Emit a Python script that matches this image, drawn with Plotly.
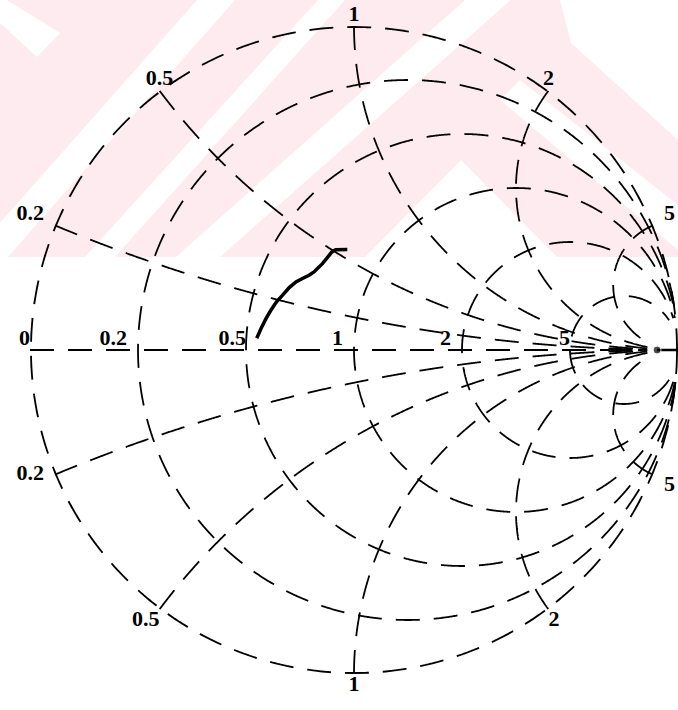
import numpy as np
import plotly.graph_objects as go

# Grid values of the Smith chart (normalised impedance)
resistance_ticks = [0.2, 0.5, 1, 2, 5]
reactance_ticks = [0.2, 0.5, 1, 2, 5]
resistance_label_values = [0, 0.2, 0.5, 1, 2, 5]
resistance_labels = ["0", "0.2", "0.5", "1", "2", "5"]
reactance_labels = ["0.2", "0.5", "1", "2", "5"]

# Measured impedance locus (normalised): real and imaginary parts
z_real = [0.537, 0.550, 0.564, 0.577, 0.591, 0.608, 0.625, 0.644, 0.665,
          0.687, 0.702, 0.710, 0.721, 0.728, 0.733, 0.743, 0.794]
z_imag = [0.043, 0.080, 0.120, 0.155, 0.191, 0.223, 0.261, 0.293, 0.317,
          0.342, 0.365, 0.386, 0.418, 0.455, 0.491, 0.511, 0.545]

GRID_LIMIT = 20.0          # grid lines end at this resistance / reactance
DASH = "24px,14px"
GRID_LINE = dict(color="black", width=1.8, dash=DASH)
# the rim sits on the subplot clip edge, so only its inner half shows
RIM_LINE = dict(color="black", width=3.8, dash=DASH)
FONT = dict(family="Liberation Serif", size=22, color="black", weight="bold")
NB = "\u00a0"

W, H = 678, 710
ML, MR, MT, MB = 30, 0, 25, 35
PW, PH = W - ML - MR, H - MT - MB

fig = go.Figure()


def add_line(real, imag, line):
    fig.add_trace(go.Scattersmith(real=real, imag=imag, mode="lines",
                                  line=line, cliponaxis=False, hoverinfo="skip"))


# outer boundary (r = 0)
u = np.linspace(-np.arctan(1e4), np.arctan(1e4), 2400)
add_line(np.zeros_like(u), np.tan(u), RIM_LINE)

# constant-resistance circles
for r in resistance_ticks:
    u = np.linspace(-np.arctan(GRID_LIMIT), np.arctan(GRID_LIMIT), 1600)
    add_line(np.full_like(u, r), np.tan(u), GRID_LINE)

# constant-reactance arcs, above and below the real axis
for x in reactance_ticks:
    u = np.linspace(0, np.arctan(GRID_LIMIT), 900)
    for sign in (1, -1):
        add_line(np.tan(u), np.full_like(u, sign * x), GRID_LINE)

# real axis
u = np.linspace(0, np.arctan(GRID_LIMIT), 900)
add_line(np.tan(u), np.zeros_like(u), GRID_LINE)

# open-circuit end of the real axis
fig.add_trace(go.Scattersmith(real=[30, 1e5], imag=[0, 0], mode="lines+markers",
                              line=dict(color="black", width=2.5),
                              marker=dict(size=[8, 0], color="black"),
                              cliponaxis=False, hoverinfo="skip"))

# impedance locus
fig.add_trace(go.Scattersmith(real=z_real, imag=z_imag, mode="lines",
                              line=dict(color="black", width=3.5),
                              hoverinfo="skip"))

# resistance labels along the real axis
pad = ["", NB * 2, "", NB * 2, NB * 2, ""]
fig.add_trace(go.Scattersmith(real=resistance_label_values,
                              imag=[0] * len(resistance_label_values),
                              mode="text",
                              text=[t + p for t, p in zip(resistance_labels, pad)],
                              textposition="top left", textfont=FONT,
                              cliponaxis=False, hoverinfo="skip"))

# reactance labels around the rim
rim_text = ([reactance_labels[0] + NB * 2] + reactance_labels[1:-1]
            + [NB * 2 + reactance_labels[-1]])
fig.add_trace(go.Scattersmith(real=[0] * len(reactance_ticks), imag=reactance_ticks,
                              mode="text", text=rim_text,
                              textposition=["top left", "top center", "top center",
                                            "top center", "top right"],
                              textfont=FONT, cliponaxis=False, hoverinfo="skip"))
fig.add_trace(go.Scattersmith(real=[0] * len(reactance_ticks),
                              imag=[-v for v in reactance_ticks],
                              mode="text", text=rim_text,
                              textposition=["middle left", "bottom left", "bottom center",
                                            "bottom right", "bottom right"],
                              textfont=FONT, cliponaxis=False, hoverinfo="skip"))


# faint background logo bands (pixel polygons converted to paper space)
def poly(points, color):
    pts = [((px - ML) / PW, 1 - (py - MT) / PH) for px, py in points]
    path = "M " + " L ".join(f"{a:.4f},{b:.4f}" for a, b in pts) + " Z"
    return dict(type="path", path=path, xref="paper", yref="paper",
                fillcolor=color, line=dict(width=0), layer="below")


PINK = "#fdebef"
WHITE = "#ffffff"
shapes = [
    poly([(0, 0), (560, 0), (571, 43), (678, 140), (678, 257), (0, 257)], PINK),
    poly([(7, 0), (60, 33), (37, 57), (0, 23), (0, 0)], WHITE),
    poly([(197, 0), (235, 0), (8, 257), (-30, 257)], WHITE),
    poly([(318, 0), (345, 0), (115, 257), (85, 257)], WHITE),
    poly([(465, 0), (511, 0), (220, 257), (176, 257)], WHITE),
    poly([(461, 160), (365, 257), (557, 257)], WHITE),
    poly([(520, 80), (678, 205), (678, 250), (500, 100)], WHITE),
]

hidden_axis = dict(showgrid=False, showline=False, showticklabels=False, ticks="")
fig.update_layout(
    width=W, height=H,
    margin=dict(l=ML, r=MR, t=MT, b=MB, pad=0),
    paper_bgcolor="white",
    plot_bgcolor="white",
    showlegend=False,
    shapes=shapes,
    smith=dict(domain=dict(x=[0, 1], y=[0, 1]),
               bgcolor="rgba(0,0,0,0)",
               realaxis=hidden_axis,
               imaginaryaxis=hidden_axis),
)

fig.write_html("out.html")
